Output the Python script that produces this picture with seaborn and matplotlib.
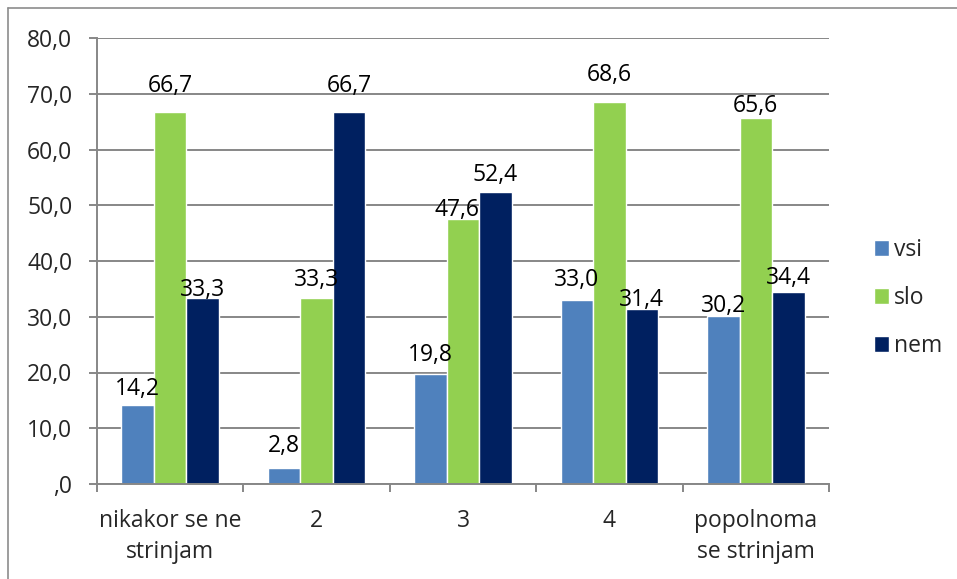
import pandas as pd
import numpy as np
import matplotlib.pyplot as plt
import seaborn as sns
from matplotlib.lines import Line2D
from matplotlib.ticker import FixedLocator, FuncFormatter

# Data
categories = ["nikakor se ne\nstrinjam", "2", "3", "4", "popolnoma\nse strinjam"]
series = ["vsi", "slo", "nem"]
vsi = [14.2, 2.8, 19.8, 33.0, 30.2]
slo = [66.7, 33.3, 47.6, 68.6, 65.6]
nem = [33.3, 66.7, 52.4, 31.4, 34.4]
colors = ["#4F81BD", "#92D050", "#002060"]

# label offset above each bar (points), as placed in the original chart
label_pad = {
    "vsi": [2.5, 7.5, 4.5, 5.5, -1.5],
    "slo": [10.5, 4.5, -2.5, 10.5, 0.5],
    "nem": [-2.5, 10.5, 3.5, -2.5, 1.5],
}
label_dx = {
    "vsi": [0, 0, 0, 0, 0],
    "slo": [0, 0, -4, 0, 0],
    "nem": [0, 0, 0, 0, 0],
}

df = pd.DataFrame({
    "cat": categories * 3,
    "series": [s for s in series for _ in categories],
    "val": vsi + slo + nem,
})

sns.set_style("white")
plt.rcParams["font.family"] = ["Open Sans", "DejaVu Sans"]
fs = 16.5
grid_col = "#878787"

fig = plt.figure(figsize=(9.57, 5.79), dpi=100)
ax = fig.add_axes([97 / 957, 1 - 484 / 579, (829 - 97) / 957, (484 - 38) / 579])

sns.barplot(data=df, x="cat", y="val", hue="series", palette=colors,
            width=2 / 3, saturation=1, gap=0, ax=ax, legend=True)

# value labels
for cont, name in zip(ax.containers, series):
    for bar, pad, dx in zip(cont, label_pad[name], label_dx[name]):
        h = bar.get_height()
        ax.annotate(f"{h:.1f}".replace(".", ","),
                    (bar.get_x() + bar.get_width() / 2, h),
                    xytext=(dx, pad), textcoords="offset points",
                    ha="center", va="bottom", fontsize=fs, color="black")

ax.set_ylim(0, 80)
ax.set_xlim(-0.5, 4.5)
ax.set_yticks(np.arange(0, 81, 10))
ax.yaxis.set_major_formatter(FuncFormatter(lambda v, p: f"{v:.1f}".replace(".", ",").lstrip("0")))
ax.yaxis.grid(True, color=grid_col, linewidth=1.4)
ax.set_axisbelow(True)
ax.set_xlabel("")
ax.set_ylabel("")

ax.xaxis.set_minor_locator(FixedLocator(np.arange(-0.5, 5, 1)))
ax.tick_params(axis="x", which="major", length=0, pad=18, labelsize=fs)
ax.tick_params(axis="x", which="minor", length=5.8, width=1.4, color=grid_col, direction="out")
ax.tick_params(axis="y", length=5.8, width=1.4, color=grid_col, pad=12, labelsize=fs, left=True)
ax.xaxis.set_ticks_position("bottom")

for s in ["top", "right"]:
    ax.spines[s].set_visible(False)
for s in ["left", "bottom"]:
    ax.spines[s].set_color(grid_col)
    ax.spines[s].set_linewidth(1.4)

for t in ax.get_xticklabels():
    t.set_linespacing(1.38)

# legend
handles, labels = ax.get_legend_handles_labels()
ax.legend(handles, labels, loc="center left", bbox_to_anchor=(853 / 957, 1 - 298 / 579),
          bbox_transform=fig.transFigure, frameon=False, fontsize=fs,
          handlelength=0.65, handleheight=0.65, handletextpad=0.25, labelspacing=1.05)

# outer chart border (top and left visible)
fig.add_artist(Line2D([8 / 957, 1], [1 - 8 / 579, 1 - 8 / 579], transform=fig.transFigure,
                      color="#8C8C8C", linewidth=1.2))
fig.add_artist(Line2D([8 / 957, 8 / 957], [0, 1 - 8 / 579], transform=fig.transFigure,
                      color="#8C8C8C", linewidth=1.2))

fig.savefig("out.png", dpi=100)
